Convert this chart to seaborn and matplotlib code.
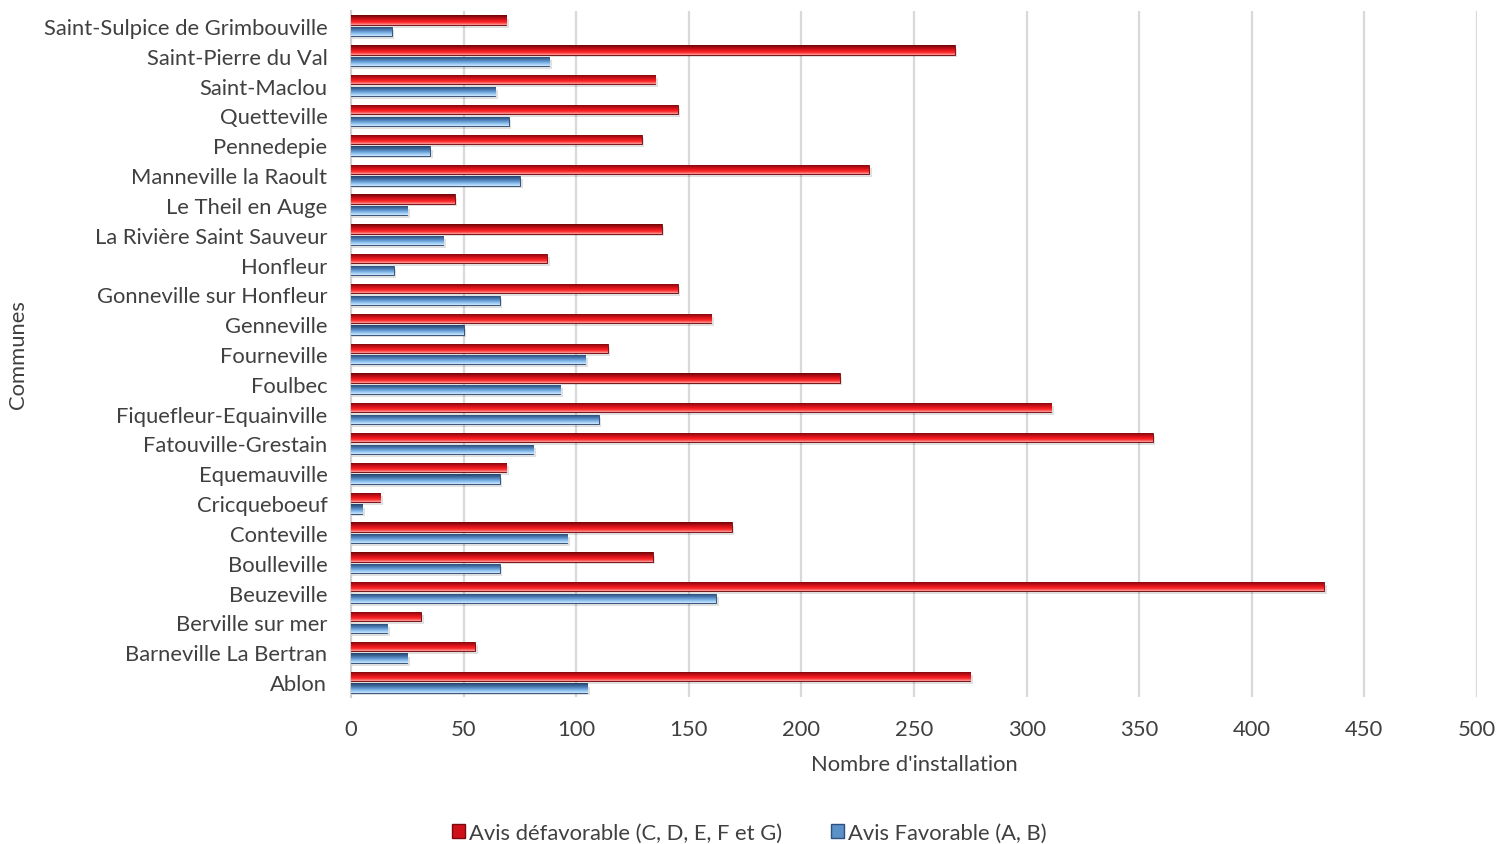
import numpy as np
import pandas as pd
import matplotlib
matplotlib.use("Agg")
import matplotlib.pyplot as plt
import seaborn as sns
from matplotlib.colors import LinearSegmentedColormap
from matplotlib.patches import Patch

communes = [
    "Saint-Sulpice de Grimbouville", "Saint-Pierre du Val", "Saint-Maclou",
    "Quetteville", "Pennedepie", "Manneville la Raoult", "Le Theil en Auge",
    "La Rivière Saint Sauveur", "Honfleur", "Gonneville sur Honfleur",
    "Genneville", "Fourneville", "Foulbec", "Fiquefleur-Equainville",
    "Fatouville-Grestain", "Equemauville", "Cricqueboeuf", "Conteville",
    "Boulleville", "Beuzeville", "Berville sur mer", "Barneville La Bertran",
    "Ablon",
]
defavorable = [69, 268, 135, 145, 129, 230, 46, 138, 87, 145, 160, 114, 217,
               311, 356, 69, 13, 169, 134, 432, 31, 55, 275]
favorable = [18, 88, 64, 70, 35, 75, 25, 41, 19, 66, 50, 104, 93,
             110, 81, 66, 5, 96, 66, 162, 16, 25, 105]
series = ["Avis défavorable (C, D, E, F et G)", "Avis Favorable (A, B)"]
xticks = [0, 50, 100, 150, 200, 250, 300, 350, 400, 450, 500]

df = pd.DataFrame({
    "Commune": communes * 2,
    "Nombre": defavorable + favorable,
    "Avis": [series[0]] * len(communes) + [series[1]] * len(communes),
})

sns.set_theme(style="white")
plt.rcParams["font.family"] = ["Lato", "DejaVu Sans"]
text_color = "#404040"
fs = 15.8

fig = plt.figure(figsize=(14.99, 8.45), dpi=100)
ax = fig.add_axes([351 / 1499, 1 - 698 / 845, (1477 - 351) / 1499, (698 - 12) / 845])

palette = {series[0]: "#e3161e", series[1]: "#6fa6dc"}
sns.barplot(data=df, y="Commune", x="Nombre", hue="Avis", order=communes,
            hue_order=series, palette=palette, orient="h", width=0.78, gap=0.2,
            legend=False, ax=ax, zorder=3)

# Cylinder-like shading for each bar via a clipped vertical gradient
grads = {
    series[0]: ["#f7a0a0", "#ff2a2a", "#e0141b", "#a80d12", "#6e0508"],
    series[1]: ["#cfe6fb", "#8cc0f0", "#5b90c8", "#3c6596", "#25446b"],
}
cmaps = {k: LinearSegmentedColormap.from_list(k, v) for k, v in grads.items()}
n = len(communes)
bars = list(ax.patches)
grad = np.linspace(0, 1, 64).reshape(-1, 1)
for i, p in enumerate(bars):
    key = series[0] if i < n else series[1]
    x0, y0 = p.get_x(), p.get_y()
    w, h = p.get_width(), p.get_height()
    # soft shadow under the bar
    ax.add_patch(plt.Rectangle((x0, y0 + h * 0.35), w + 1.2, h * 0.95,
                               color="#000000", alpha=0.12, lw=0, zorder=2))
    im = ax.imshow(grad, cmap=cmaps[key], aspect="auto",
                   extent=(x0, x0 + w, y0, y0 + h), origin="upper", zorder=4)
    im.set_clip_path(p)
    p.set_edgecolor(grads[key][-1])
    p.set_linewidth(0.6)

ax.set_ylim(n - 0.5, -0.5)
ax.set_xlim(0, 500)
ax.set_xticks(xticks)
ax.set_xticklabels([str(t) for t in xticks])
ax.grid(axis="x", color="#d9d9d9", linewidth=1.6, zorder=0)
ax.set_axisbelow(True)
for s in ["top", "right", "bottom"]:
    ax.spines[s].set_visible(False)
ax.spines["left"].set_color("#d0d0d0")
ax.spines["left"].set_linewidth(1.5)
ax.tick_params(axis="both", length=0, colors=text_color, labelsize=fs)
ax.tick_params(axis="x", pad=16)
ax.tick_params(axis="y", pad=17)
ax.set_xlabel("Nombre d'installation", fontsize=fs, color=text_color, labelpad=11)
ax.set_ylabel("Communes", fontsize=fs, color=text_color)
ax.yaxis.set_label_coords(-0.287, 0.5)

handles = [Patch(facecolor="#d01018", edgecolor="#7a0a0e"),
           Patch(facecolor="#5b90c8", edgecolor="#2c5080")]
fig.legend(handles, series, loc="center", bbox_to_anchor=(0.5, 1 - 834 / 845),
           ncol=2, frameon=False, fontsize=fs, handlelength=0.6,
           handleheight=0.6, handletextpad=0.2, columnspacing=2.2,
           labelcolor=text_color)

fig.savefig("out.png", dpi=100)
